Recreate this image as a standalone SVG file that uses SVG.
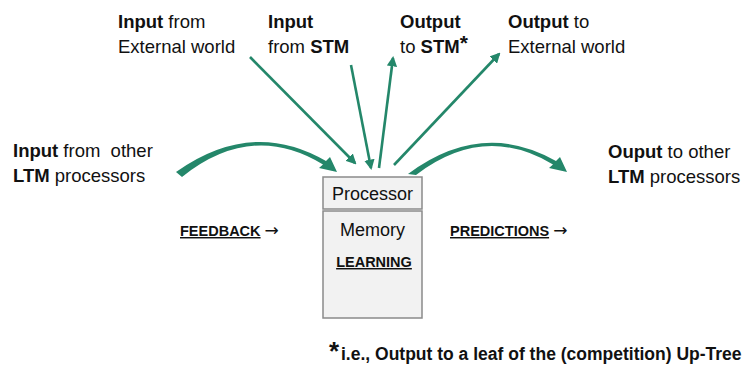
<svg xmlns="http://www.w3.org/2000/svg" width="745" height="371" viewBox="0 0 745 371">
<defs>
<style>
.t{font-family:"Liberation Sans",Arial,sans-serif;font-size:18.5px;fill:#111}
.b{font-weight:bold}
.s{font-family:"Liberation Sans",Arial,sans-serif;font-size:14.5px;font-weight:bold;fill:#111}
.ar{font-family:"DejaVu Sans",sans-serif;font-size:17px;font-weight:normal}
.box{fill:#f2f2f2;stroke:#8a8a8a;stroke-width:1.5}
.ln{stroke:#24876a;stroke-width:2.6;fill:none}
.cv{fill:#24876a}
</style>
<marker id="ah" viewBox="0 0 10 10" refX="8" refY="5" markerWidth="4" markerHeight="4" orient="auto" markerUnits="strokeWidth">
<path d="M0,0 L10,5 L0,10 Z" fill="#24876a"/>
</marker>
</defs>
<g id="labels">
<text class="t" x="118" y="28"><tspan class="b">Input</tspan> from</text>
<text class="t" x="118" y="53">External world</text>
<text class="t" x="268" y="28"><tspan class="b">Input</tspan></text>
<text class="t" x="268" y="53">from <tspan class="b">STM</tspan></text>
<text class="t" x="400" y="28"><tspan class="b">Output</tspan></text>
<text class="t" x="400" y="53">to <tspan class="b">STM</tspan><tspan class="b" font-size="21" dy="-3">*</tspan></text>
<text class="t" x="508" y="28"><tspan class="b">Output</tspan> to</text>
<text class="t" x="508" y="53">External world</text>
<text class="t" x="13" y="157" xml:space="preserve"><tspan class="b">Input</tspan> from  other</text>
<text class="t" x="13" y="182"><tspan class="b">LTM</tspan> processors</text>
<text class="t" x="608" y="158"><tspan class="b">Ouput</tspan> to other</text>
<text class="t" x="608" y="183"><tspan class="b">LTM</tspan> processors</text>
<text class="s" x="180" y="236"><tspan text-decoration="underline">FEEDBACK</tspan> <tspan class="ar">→</tspan></text>
<text class="s" x="450" y="236"><tspan text-decoration="underline">PREDICTIONS</tspan> <tspan class="ar">→</tspan></text>
<text class="t b" x="329" y="360" style="font-size:26px">*</text>
<text class="t b" x="341" y="360" style="font-size:17.5px">i.e., Output to a leaf of the (competition) Up-Tree</text>
</g>
<g id="memory">
<rect class="box" x="323" y="211" width="99" height="107"/>
<text class="t" x="372.5" y="236" style="font-size:18px" text-anchor="middle">Memory</text>
<text class="s" x="374" y="267" text-anchor="middle" text-decoration="underline">LEARNING</text>
</g>
<g id="processor">
<rect class="box" x="323" y="177" width="99" height="32"/>
<text class="t" x="372.5" y="200" style="font-size:18px" text-anchor="middle">Processor</text>
</g>
<g id="connectors">
<line class="ln" x1="250" y1="57" x2="355" y2="163" marker-end="url(#ah)"/>
<line class="ln" x1="351" y1="65" x2="371" y2="168" marker-end="url(#ah)"/>
<line class="ln" x1="379" y1="168" x2="393" y2="58" marker-end="url(#ah)"/>
<line class="ln" x1="394" y1="165" x2="499" y2="54" marker-end="url(#ah)"/>
<path class="cv" d="M176,172 Q252,118 326,161 L330,157 L337,172 L319,168 L323,164.5 Q252,121 182,177 Z"/>
<path class="cv" d="M408,174 Q482,119 556,161 L560,157 L567,172 L549,168 L553,164.5 Q484,123 416,175 Z"/>
</g>
</svg>
